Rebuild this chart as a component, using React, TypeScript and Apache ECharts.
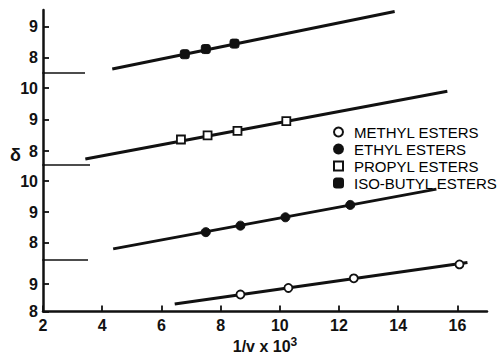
import { useEffect, useRef } from 'react';
import * as echarts from 'echarts';

// ---- data ----
const xTickStep = 2;
const xMin = 2;
const xMax = 17;

const seriesNames = ['METHYL ESTERS', 'ETHYL ESTERS', 'PROPYL ESTERS', 'ISO-BUTYL ESTERS'];

const methylX = [8.67, 10.29, 12.5, 16.07];
const methylY = [8.62, 8.86, 9.21, 9.72];
const methylFitX = [6.45, 16.34];
const methylFitY = [8.27, 9.79];

const ethylX = [7.5, 8.67, 10.19, 12.38];
const ethylY = [8.35, 8.56, 8.83, 9.23];
const ethylFitX = [4.37, 15.29];
const ethylFitY = [7.81, 9.74];

const propylX = [6.66, 7.56, 8.57, 10.22];
const propylY = [8.37, 8.5, 8.64, 8.95];
const propylFitX = [3.43, 15.66];
const propylFitY = [7.75, 9.9];

const isoX = [6.79, 7.5, 8.47];
const isoY = [8.1, 8.27, 8.45];
const isoFitX = [4.34, 13.88];
const isoFitY = [7.61, 9.51];

// y tick labels of each stacked panel (top to bottom)
const isoTicks = [8, 9];
const propylTicks = [8, 9, 10];
const ethylTicks = [8, 9, 10];
const methylTicks = [8, 9];

// ---- layout / style ----
const FONT = '"Liberation Sans", Arial, Helvetica, sans-serif';
const INK = '#111';
const LEFT = 43;
const RIGHT = 16;

// panels: top px, height px, y min, y max
const panels = [
  { top: 10, height: 63, min: 7.48, max: 9.56, ticks: isoTicks },
  { top: 73, height: 92, min: 7.56, max: 10.48, ticks: propylTicks },
  { top: 165, height: 95, min: 7.45, max: 10.52, ticks: ethylTicks },
  { top: 260, height: 62, min: 8, max: 9.88, ticks: methylTicks },
];

const zip = (xs: number[], ys: number[]) => xs.map((x, i) => [x, ys[i]]);

export default function App() {
  const ref = useRef<HTMLDivElement>(null);
  useEffect(() => {
    if (!ref.current) return;
    const chart = echarts.init(ref.current, null, { renderer: 'svg' });

    const grids = panels.map((p) => ({
      left: LEFT,
      right: RIGHT,
      top: p.top,
      height: p.height,
      containLabel: false,
    }));

    const xAxes = panels.map((_, i) => {
      const isBottom = i === panels.length - 1;
      return {
        type: 'value',
        gridIndex: i,
        min: xMin,
        max: xMax,
        interval: xTickStep,
        show: isBottom,
        name: isBottom ? '1/v x 10{sup|3}' : '',
        nameLocation: 'middle',
        nameGap: 24,
        nameTextStyle: {
          fontFamily: FONT,
          fontSize: 16,
          fontWeight: 'bold',
          color: INK,
          rich: {
            sup: { fontFamily: FONT, fontSize: 12, fontWeight: 'bold', color: INK, verticalAlign: 'top', padding: [0, 0, 9, 0] },
          },
        },
        axisLine: { show: true, onZero: false, lineStyle: { color: INK, width: 2.5 } },
        axisTick: { show: true, inside: true, length: 6, lineStyle: { color: INK, width: 1.8 } },
        axisLabel: {
          show: true,
          margin: 6,
          showMaxLabel: false,
          fontFamily: FONT,
          fontSize: 16,
          fontWeight: 'bold',
          color: INK,
        },
        splitLine: { show: false },
      };
    });

    const yAxes = panels.map((p, i) => ({
      type: 'value',
      gridIndex: i,
      min: p.min,
      max: p.max,
      axisLine: { show: true, onZero: false, lineStyle: { color: INK, width: 2.5 } },
      axisTick: {
        show: true,
        inside: true,
        length: 6,
        customValues: p.ticks,
        lineStyle: { color: INK, width: 1.8 },
      },
      axisLabel: {
        show: true,
        customValues: p.ticks,
        margin: 5,
        fontFamily: FONT,
        fontSize: 16,
        fontWeight: 'bold',
        color: INK,
      },
      splitLine: { show: false },
    }));

    const fitLine = (name: string, idx: number, xs: number[], ys: number[]) => ({
      name,
      type: 'line',
      xAxisIndex: idx,
      yAxisIndex: idx,
      data: zip(xs, ys),
      symbol: 'none',
      clip: false,
      lineStyle: { color: INK, width: 3 },
      z: 2,
    });

    const points = (
      name: string,
      idx: number,
      xs: number[],
      ys: number[],
      symbol: string,
      size: number,
      filled: boolean
    ) => ({
      name,
      type: 'scatter',
      xAxisIndex: idx,
      yAxisIndex: idx,
      data: zip(xs, ys),
      symbol,
      symbolSize: size,
      itemStyle: filled
        ? { color: INK, borderColor: INK, borderWidth: 1, opacity: 1 }
        : { color: '#fff', borderColor: INK, borderWidth: 1.8, opacity: 1 },
      z: 5,
    });

    const sepStyle = { stroke: INK, lineWidth: 1.6 };

    chart.setOption({
      animation: false,
      backgroundColor: '#fff',
      grid: grids,
      xAxis: xAxes,
      yAxis: yAxes,
      legend: {
        show: true,
        orient: 'vertical',
        left: 328,
        top: 119,
        itemWidth: 9,
        itemHeight: 9,
        itemGap: 1,
        selectedMode: false,
        data: seriesNames,
        textStyle: {
          fontFamily: FONT,
          fontSize: 15,
          color: '#000',
          lineHeight: 16,
          padding: [0, 0, 0, 6],
        },
      },
      graphic: [
        { type: 'line', shape: { x1: LEFT, y1: 73, x2: 85, y2: 73 }, style: sepStyle },
        { type: 'line', shape: { x1: LEFT, y1: 165, x2: 90, y2: 165 }, style: sepStyle },
        { type: 'line', shape: { x1: LEFT, y1: 260, x2: 88, y2: 260 }, style: sepStyle },
        {
          type: 'text',
          x: 10,
          y: 146,
          style: { text: 'δ', fontFamily: FONT, fontSize: 18, fontWeight: 'bold', fill: INK },
        },
      ],
      series: [
        fitLine('iso fit', 0, isoFitX, isoFitY),
        fitLine('propyl fit', 1, propylFitX, propylFitY),
        fitLine('ethyl fit', 2, ethylFitX, ethylFitY),
        fitLine('methyl fit', 3, methylFitX, methylFitY),
        points(seriesNames[0], 3, methylX, methylY, 'circle', 8, false),
        points(seriesNames[1], 2, ethylX, ethylY, 'circle', 9, true),
        points(seriesNames[2], 1, propylX, propylY, 'rect', 8, false),
        points(seriesNames[3], 0, isoX, isoY, 'roundRect', 9, true),
      ],
    });
    return () => chart.dispose();
  }, []);

  return (
    <div
      ref={ref}
      style={{ position: 'fixed', left: 0, top: 0, width: 503, height: 355, background: '#fff' }}
    />
  );
}
